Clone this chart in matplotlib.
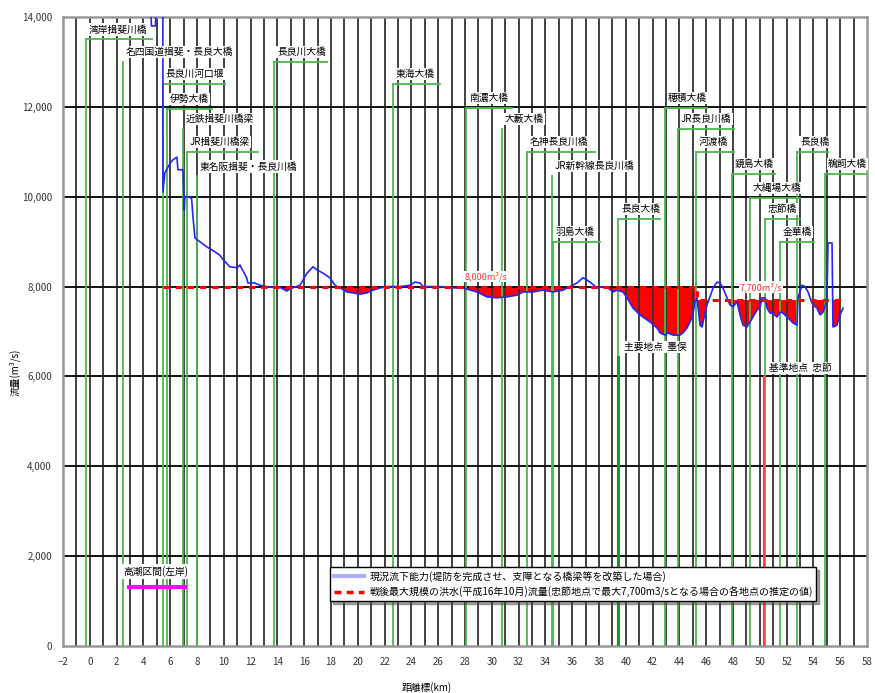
import numpy as np
import matplotlib
matplotlib.use("Agg")
import matplotlib.pyplot as plt
from matplotlib.lines import Line2D

plt.rcParams['font.family'] = ['Noto Sans CJK JP', 'DejaVu Sans']

# 現況流下能力 (km, m3/s)
cap_km = [4.45, 4.6, 4.9, 5.0, 5.45, 5.46, 5.6, 6.0, 6.2, 6.5, 6.58, 6.95, 7.0, 7.05, 7.1,
          7.45, 7.6, 7.7, 7.85, 8.35, 8.75, 9.2, 9.7, 9.95, 10.45, 11.0, 11.2, 11.7, 11.8,
          12.3, 12.7, 13.2, 13.7, 14.2, 14.7, 14.94, 15.69, 16.21, 16.66, 16.96, 17.4,
          17.93, 18.3, 18.67, 19.19, 19.64, 20.16, 20.69, 21.13, 21.66, 22.18, 23.15, 23.9,
          24.27, 24.64, 24.87, 26.13, 27.1, 27.85, 28.9, 29.64, 30.39, 31.13, 31.88, 32.33,
          33.07, 33.82, 34.57, 35.31, 35.84, 36.36, 36.81, 37.33, 37.85, 38.3, 38.67, 39.04,
          39.34, 39.79, 40.09, 40.54, 41.06, 41.58, 41.81, 42.33, 42.55, 42.93, 43.15, 43.52,
          44.04, 44.27, 44.57, 44.79, 45.01, 45.16, 45.31, 45.54, 45.69, 45.91, 46.06, 46.28,
          46.51, 46.81, 47.03, 47.25, 47.55, 47.78, 48.0, 48.3, 48.52, 48.75, 49.04, 49.27,
          49.49, 49.79, 50.01, 50.16, 50.39, 50.54, 50.76, 50.99, 51.28, 51.51, 51.73, 52.03,
          52.25, 52.48, 52.78, 52.85, 53.15, 53.37, 53.6, 53.75, 53.97, 54.27, 54.49, 54.72,
          55.01, 55.09, 55.39, 55.46, 55.76, 55.99, 56.21]
cap_q = [15000, 13800, 13800, 15000, 15000, 10100, 10530, 10750, 10820, 10880, 10600, 10600,
         10200, 9700, 10000, 10000, 9950, 9550, 9080, 8970, 8880, 8800, 8700, 8600, 8440,
         8420, 8480, 8200, 8080, 8080, 8030, 8000, 7980, 7980, 7900, 7950, 8030, 8300, 8440,
         8370, 8300, 8190, 8030, 7970, 7880, 7860, 7830, 7860, 7920, 7970, 8000, 8000, 8030,
         8100, 8080, 8000, 8000, 7970, 7970, 7880, 7770, 7750, 7770, 7810, 7880, 7880, 7920,
         7880, 7920, 8000, 8080, 8200, 8100, 7970, 8000, 7970, 7880, 7920, 7880, 7750, 7520,
         7370, 7260, 7210, 7080, 6970, 6920, 6970, 6920, 6920, 6970, 7080, 7210, 7370, 7660,
         7750, 7140, 7100, 7410, 7590, 7770, 7970, 8100, 8080, 7970, 7750, 7590, 7550, 7660,
         7370, 7140, 7100, 7210, 7320, 7480, 7520, 7750, 7750, 7520, 7410, 7410, 7320, 7430,
         7410, 7320, 7260, 7190, 7140, 7750, 8030, 8000, 7880, 7750, 7590, 7520, 7370, 7430,
         7700, 8970, 8970, 7100, 7140, 7370, 7520]

# 戦後最大規模の洪水流量
design_km = [5.46, 45.3, 45.3, 56.2]
design_q = [8000, 8000, 7700, 7700]
design_step = 45.3

# 橋梁
bridge_names = ['湾岸揖斐川橋', '名四国道揖斐・長良大橋', '長良川河口堰', '伊勢大橋',
                '近鉄揖斐川橋梁', 'JR揖斐川橋梁', '東名阪揖斐・長良川橋', '長良川大橋',
                '東海大橋', '南濃大橋', '大藪大橋', '名神長良川橋', 'JR新幹線長良川橋',
                '羽島大橋', '長良大橋', '穂積大橋', 'JR長良川橋', '河渡橋', '鏡島大橋',
                '大縄場大橋', '忠節橋', '金華橋', '長良橋', '鵜飼大橋']
bridge_km = [-0.28, 2.48, 5.46, 5.76, 6.96, 7.25, 8.0, 13.75, 22.63, 28.07, 30.76, 32.63,
             34.49, 34.57, 39.42, 42.93, 43.9, 45.24, 47.93, 49.27, 50.39, 51.51, 52.78, 54.87]
bridge_top = [13500, 13000, 12500, 11950, 11500, 11000, 10450, 13000, 12500, 11980, 11500,
              11000, 10470, 9000, 9500, 11980, 11500, 11000, 10500, 9980, 9500, 9000, 11000,
              10500]
bridge_end = [4.64, 10.84, 10.09, 9.12, 12.85, 12.55, 15.69, 17.7, 26.13, 31.5, 33.97, 37.7,
              41.21, 38.07, 42.55, 46.06, 48.07, 48.07, 51.13, 53.0, 53.0, 54.04, 55.09, 58.0]
covered = ['名四国道揖斐・長良大橋', '近鉄揖斐川橋梁', '東名阪揖斐・長良川橋', '大藪大橋',
           'JR新幹線長良川橋']

# 高潮区間
takashio_km = [2.78, 7.25]
takashio_q = [1310, 1310]

legend_labels = ['現況流下能力(堤防を完成させ、支障となる橋梁等を改築した場合)',
                 '戦後最大規模の洪水(平成16年10月)流量(忠節地点で最大7,700m3/sとなる場合の各地点の推定の値)']

green = '#4cb84c'

fig = plt.figure(figsize=(8.75, 6.93), dpi=100)
ax = fig.add_axes([63 / 875, 47 / 693, 804 / 875, 629 / 693])
ax.set_xlim(-2, 58)
ax.set_ylim(0, 14000)

# grid
for k in range(-1, 58):
    ax.axvline(k, color='#333333', lw=1.3, zorder=2)
for v in range(2000, 14000, 2000):
    ax.axhline(v, color='#111111', lw=1.4, zorder=2)

# red fill
ck = np.array(cap_km)
cq = np.array(cap_q)
dq = np.where(ck <= design_step, 8000, 7700)
mask = (ck >= design_km[0]) & (ck <= design_km[-1])
ax.fill_between(ck[mask], cq[mask], dq[mask], where=cq[mask] < dq[mask],
                interpolate=True, color='red', lw=0, zorder=1)

# bridges
for name, k, top, end in zip(bridge_names, bridge_km, bridge_top, bridge_end):
    ax.plot([k, k], [0, top], color=green, lw=1.3, zorder=3)
    if name not in covered:
        ax.plot([k, end], [top, top], color=green, lw=1.3, zorder=3)
    ax.annotate(name, xy=(k, top), xytext=(3, 10), textcoords='offset pixels',
                ha='left', va='center', fontsize=7, zorder=7,
                bbox=dict(fc='white', ec='none', pad=0.8))

# 主要地点 墨俣 / 基準地点 忠節
ax.plot([39.42, 39.42], [0, 6430], color='#1a9a1a', lw=2.2, zorder=3)
ax.plot([50.3, 50.3], [0, 5990], color='#ff4040', lw=1.5, zorder=4)
ax.text(42.2, 6650, '主要地点  墨俣', fontsize=7, ha='center', va='center', zorder=7,
        bbox=dict(fc='white', ec='none', pad=0.8))
ax.text(53.0, 6190, '基準地点  忠節', fontsize=7, ha='center', va='center', zorder=7,
        bbox=dict(fc='white', ec='none', pad=0.8))

# lines
ax.plot(cap_km, cap_q, color='#2525ff', lw=1.2, zorder=5)
ax.plot(design_km, design_q, color='red', lw=2.2, ls=(0, (2, 2)), zorder=6)
ax.text(29.6, 8230, '8,000m³/s', color='#ff3030', fontsize=6.5, ha='center', va='center',
        zorder=7, bbox=dict(fc='white', ec='none', pad=0.5))
ax.text(50.1, 7990, '7,700m³/s', color='#ff3030', fontsize=6.5, ha='center', va='center',
        zorder=7, bbox=dict(fc='white', ec='none', pad=0.5))

# 高潮区間
ax.plot(takashio_km, takashio_q, color='#ff00ff', lw=3, zorder=5, solid_capstyle='butt')
ax.text(4.94, 1650, '高潮区間(左岸)', fontsize=7, ha='center', va='center', zorder=7,
        bbox=dict(fc='white', ec='none', pad=1.5))

# legend
handles = [Line2D([], [], color='#aab0ff', lw=3),
           Line2D([], [], color='red', lw=2.5, ls=(0, (2, 1.5)))]
leg = ax.legend(handles, legend_labels, loc='upper left', bbox_to_anchor=(0.326, 0.133),
                fontsize=7.2, fancybox=False, edgecolor='black', shadow=True, framealpha=1,
                borderpad=0.35, handlelength=3.0, labelspacing=0.45, handletextpad=0.6)
leg.get_frame().set_linewidth(1.0)
leg.set_zorder(8)

ax.set_xticks(range(-2, 59, 2))
ax.set_yticks(range(0, 14001, 2000))
ax.set_yticklabels([f'{v:,}' for v in range(0, 14001, 2000)])
ax.tick_params(length=0, labelsize=7, colors='#333333', pad=8)
for s in ax.spines.values():
    s.set_color('#999999')
    s.set_linewidth(1.8)

fig.text(427 / 875, 1 - 688 / 693, '距離標(km)', fontsize=7, ha='center', va='center')
fig.text(15 / 875, 1 - 372 / 693, '流量(m³/s)', fontsize=7, ha='center', va='center',
         rotation=90)

fig.savefig('out.png', dpi=100)
